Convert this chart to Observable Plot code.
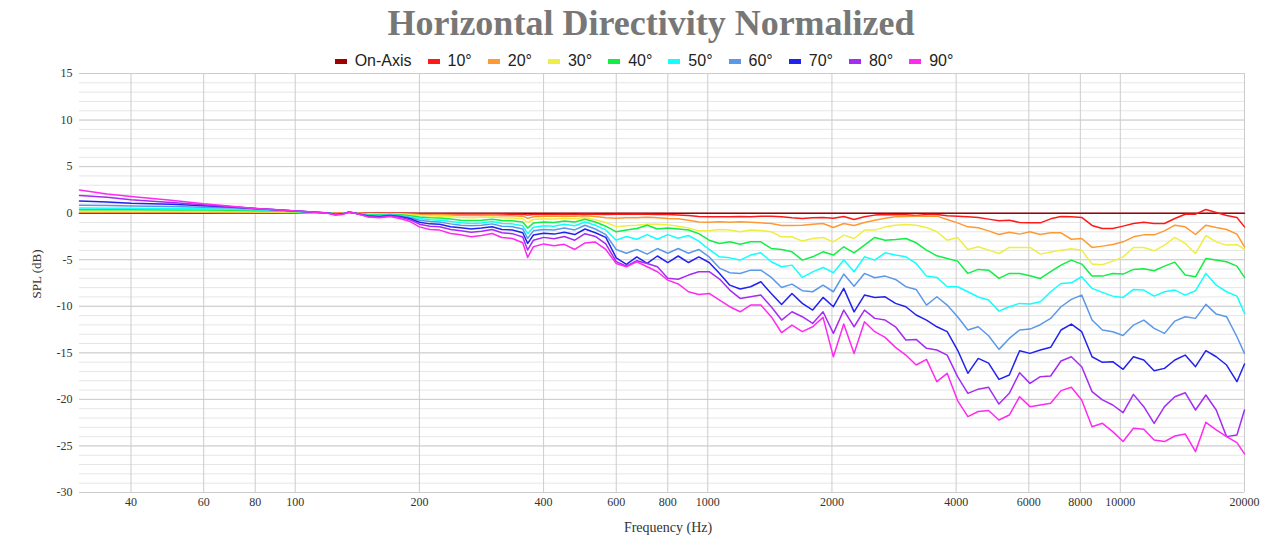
<!DOCTYPE html>
<html>
<head>
<meta charset="utf-8">
<script src="https://cdn.jsdelivr.net/npm/d3@7"></script>
<script src="https://cdn.jsdelivr.net/npm/@observablehq/plot@0.6"></script>
<style>
  html, body { margin: 0; padding: 0; background: #ffffff; }
  #wrap { width: 1280px; height: 550px; position: relative; overflow: hidden; }
  #chart { position: absolute; left: 0; top: 0; }
  #title { position: absolute; top: 0; left: 11px; width: 1280px; height: 46px; line-height: 46px; text-align: center; font-family: 'Liberation Serif', 'Times New Roman', serif; font-weight: bold; font-size: 36px; color: #777777; }
  #legend { position: absolute; top: 50px; left: 4px; width: 1280px; height: 22px; line-height: 22px; display: flex; justify-content: center; gap: 16px; font-family: 'Liberation Sans', Arial, sans-serif; font-size: 16px; color: #222; }
  .item { display: flex; align-items: center; white-space: nowrap; }
  .sw { display: inline-block; width: 12px; height: 5px; margin-right: 8px; }
  #chart svg { display: block; }
</style>
</head>
<body>
<div id="wrap">
  <div id="chart"></div>
  <div id="title">Horizontal Directivity Normalized</div>
  <div id="legend"></div>
</div>
<script>
const freqs = [30,35,40,50,60,70,80,90,100,110,120,125,130,135,140,150,160,170,180,190,
  200,212,224,238,252,267,283,300,317,336,356,366,378,400,424,449,476,504,534,566,600,635,673,713,755,800,848,898,951,
  1008,1068,1131,1198,1270,1345,1425,1510,1600,1695,1796,1903,2016,2136,2263,2398,2540,2691,2851,3021,
  3200,3390,3592,3805,4032,4271,4525,4794,5079,5381,5701,6040,6399,6779,7182,7609,8062,8541,9049,9587,
  10157,10761,11401,12078,12797,13557,14363,15217,16122,17081,18096,19172,20000];

const onAxisFreqs = [30, 20000];
const onAxis = [0, 0];

const deg10 = [0.03,0.03,0.03,0.03,0.03,0.02,0.02,0.02,0.01,0.01,0,-0.01,0,0.01,0,-0.01,-0.02,-0.01,-0.02,-0.03,
  -0.05,-0.07,-0.07,-0.08,-0.1,-0.1,-0.1,-0.09,-0.1,-0.11,-0.13,-0.2,-0.15,-0.13,-0.13,-0.12,-0.13,-0.1,-0.12,-0.15,
  -0.12,-0.12,-0.1,-0.12,-0.15,-0.15,-0.2,-0.25,-0.35,
  -0.39,-0.39,-0.39,-0.36,-0.39,-0.32,-0.32,-0.39,-0.5,-0.57,-0.5,-0.46,-0.54,-0.36,-0.68,-0.39,-0.21,-0.14,-0.18,-0.18,
  -0.25,-0.14,-0.14,-0.29,-0.32,-0.39,-0.46,-0.64,-0.82,-0.75,-1.0,-1.04,-1.04,-0.61,-0.36,-0.39,-0.46,-1.32,-1.65,-1.65,
  -1.39,-1.11,-0.97,-1.11,-1.11,-0.57,-0.11,-0.11,0.39,0.07,-0.25,-0.46,-1.47];

const deg20 = [0.1,0.1,0.1,0.1,0.09,0.08,0.07,0.06,0.04,0.02,0,-0.02,-0.01,0.02,0,-0.04,-0.05,-0.03,-0.05,-0.08,
  -0.15,-0.17,-0.18,-0.2,-0.25,-0.26,-0.25,-0.22,-0.27,-0.28,-0.32,-0.55,-0.38,-0.32,-0.33,-0.3,-0.32,-0.28,-0.35,-0.5,
  -0.55,-0.5,-0.5,-0.45,-0.5,-0.57,-0.6,-0.75,-0.95,
  -0.97,-0.93,-0.97,-0.93,-0.97,-1.04,-1.11,-1.32,-1.32,-1.29,-1.18,-1.11,-1.54,-1.11,-1.32,-1.0,-0.75,-0.54,-0.39,-0.36,
  -0.32,-0.32,-0.32,-0.68,-1.04,-1.47,-1.57,-1.9,-2.29,-2.04,-2.25,-2.0,-2.29,-2.11,-2.11,-2.8,-2.72,-3.68,-3.54,-3.36,
  -3.08,-2.54,-2.33,-2.33,-1.9,-1.29,-1.47,-2.29,-1.29,-1.54,-1.75,-2.25,-3.61];

const deg30 = [0.22,0.22,0.21,0.2,0.19,0.18,0.16,0.13,0.09,0.05,0.01,-0.04,-0.03,0.04,0,-0.08,-0.1,-0.07,-0.1,-0.17,
  -0.25,-0.3,-0.32,-0.38,-0.46,-0.48,-0.45,-0.4,-0.5,-0.52,-0.6,-1.0,-0.68,-0.6,-0.62,-0.55,-0.6,-0.5,-0.7,-1.0,
  -1.45,-1.35,-1.3,-1.2,-1.2,-1.25,-1.4,-1.6,-1.9,
  -1.9,-1.75,-1.82,-2.0,-1.82,-1.86,-2.0,-2.54,-2.54,-3.0,-2.72,-2.61,-3.08,-2.36,-2.72,-1.82,-1.82,-1.47,-1.29,-1.22,
  -1.29,-1.54,-2.0,-2.9,-2.61,-3.9,-3.6,-3.97,-4.33,-3.68,-3.68,-3.68,-4.4,-4.18,-3.97,-3.83,-3.97,-5.47,-5.54,-5.15,
  -4.69,-3.68,-3.68,-4.04,-3.43,-2.61,-3.25,-4.33,-2.4,-3.08,-3.43,-3.36,-3.9];

const deg40 = [0.38,0.37,0.36,0.35,0.33,0.3,0.27,0.22,0.15,0.08,0.02,-0.07,-0.04,0.06,0,-0.14,-0.17,-0.12,-0.17,-0.28,
  -0.4,-0.5,-0.52,-0.62,-0.75,-0.8,-0.75,-0.65,-0.8,-0.82,-0.95,-1.6,-1.05,-0.95,-1.0,-0.85,-0.95,-0.65,-0.95,-1.4,
  -2.0,-1.8,-1.65,-1.3,-1.7,-1.6,-1.7,-1.8,-2.2,
  -2.9,-3.25,-3.08,-3.33,-3.08,-3.08,-3.79,-3.9,-4.15,-5.04,-4.69,-4.15,-4.5,-3.61,-4.26,-3.43,-2.61,-2.9,-2.83,-2.72,
  -3.18,-3.97,-4.58,-4.86,-5.15,-6.47,-6.04,-6.12,-7.01,-6.47,-6.47,-6.72,-7.01,-6.29,-5.58,-5.04,-5.47,-6.76,-6.76,-6.47,
  -6.54,-6.04,-5.97,-6.19,-5.69,-5.26,-6.65,-6.83,-4.86,-5.04,-5.22,-5.69,-6.9];

const deg50 = [0.55,0.53,0.52,0.5,0.47,0.43,0.38,0.3,0.2,0.1,0.03,-0.1,-0.06,0.08,0,-0.2,-0.24,-0.16,-0.24,-0.4,
  -0.57,-0.7,-0.75,-0.9,-1.04,-1.1,-1.05,-0.9,-1.1,-1.15,-1.35,-2.2,-1.5,-1.35,-1.4,-1.2,-1.35,-0.95,-1.3,-1.8,
  -2.9,-2.5,-2.8,-2.3,-2.8,-2.3,-2.7,-2.4,-3.0,
  -3.9,-4.69,-4.8,-5.04,-4.5,-4.26,-5.22,-5.76,-5.58,-6.9,-6.3,-5.83,-6.4,-5.04,-6.29,-4.69,-5.04,-4.26,-4.5,-4.69,
  -5.4,-6.76,-6.9,-7.9,-7.9,-8.44,-9.0,-9.33,-10.52,-10.05,-9.69,-9.76,-9.51,-8.44,-7.55,-7.48,-6.83,-8.08,-8.51,-8.91,
  -9.05,-8.19,-8.26,-8.91,-8.44,-8.26,-8.8,-8.33,-6.47,-7.73,-8.44,-8.91,-10.77];

const deg60 = [0.85,0.82,0.78,0.72,0.64,0.55,0.45,0.35,0.22,0.12,0.03,-0.12,-0.08,0.1,0,-0.25,-0.3,-0.2,-0.3,-0.5,
  -0.75,-0.9,-0.95,-1.15,-1.29,-1.35,-1.3,-1.15,-1.4,-1.45,-1.7,-2.7,-1.9,-1.75,-1.8,-1.6,-1.8,-1.3,-1.7,-2.3,
  -3.9,-4.3,-3.9,-4.4,-3.8,-4.3,-3.8,-4.3,-3.9,
  -4.7,-5.9,-6.4,-6.47,-6.12,-6.12,-6.9,-7.98,-7.62,-8.33,-8.44,-7.73,-8.44,-6.54,-7.84,-6.47,-6.94,-6.76,-7.12,-7.9,
  -8.19,-9.87,-8.98,-9.87,-11.12,-12.55,-12.2,-13.16,-14.63,-13.45,-12.55,-12.45,-11.98,-11.3,-10.05,-9.26,-8.8,-11.48,-12.55,-12.73,
  -13.13,-12.02,-11.48,-12.38,-12.91,-11.59,-11.12,-11.3,-9.8,-10.84,-11.12,-13.27,-15.06];

const deg70 = [1.3,1.2,1.07,0.95,0.8,0.65,0.5,0.36,0.22,0.12,0.03,-0.15,-0.1,0.12,0,-0.3,-0.38,-0.25,-0.38,-0.6,
  -0.97,-1.15,-1.2,-1.45,-1.57,-1.7,-1.6,-1.45,-1.75,-1.8,-2.1,-3.25,-2.35,-2.15,-2.25,-2.05,-2.3,-1.7,-2.1,-2.6,
  -4.8,-5.5,-4.7,-5.4,-4.6,-5.3,-4.6,-5.3,-4.7,
  -5.3,-6.47,-7.73,-8.15,-7.9,-7.37,-8.62,-9.8,-8.62,-9.69,-10.41,-9.05,-10.05,-8.08,-10.6,-8.8,-9.05,-8.98,-9.69,-10.05,
  -10.94,-11.48,-12.2,-12.73,-14.7,-17.2,-15.6,-16.1,-17.85,-17.38,-14.77,-15.06,-14.7,-14.41,-12.55,-11.91,-12.73,-15.42,-16.02,-15.95,
  -16.77,-15.42,-15.77,-16.92,-16.67,-15.77,-15.24,-16.49,-14.77,-15.42,-16.31,-18.1,-16.2];

const deg80 = [1.9,1.7,1.45,1.15,0.9,0.68,0.5,0.38,0.22,0.12,0.02,-0.18,-0.12,0.12,0,-0.35,-0.45,-0.3,-0.45,-0.72,
  -1.18,-1.4,-1.45,-1.75,-1.9,-2.05,-1.95,-1.75,-2.1,-2.2,-2.55,-3.95,-2.9,-2.6,-2.75,-2.5,-2.9,-2.2,-2.5,-3.3,
  -5.2,-5.69,-5.11,-5.4,-5.76,-7.0,-7.1,-6.65,-6.29,
  -6.29,-7.08,-8.26,-9.16,-8.98,-8.8,-10.05,-11.48,-10.59,-11.12,-11.84,-10.59,-12.91,-10.41,-12.2,-10.41,-11.3,-11.48,-12.2,-13.63,
  -13.56,-14.52,-14.7,-15.24,-17.56,-19.35,-18.9,-18.7,-20.5,-19.35,-17.13,-18.28,-17.56,-17.49,-15.88,-15.42,-16.49,-19.17,-20.06,-20.6,
  -21.43,-19.46,-20.78,-22.57,-20.78,-19.71,-19.28,-21.14,-19.53,-21.14,-24.0,-23.82,-21.14];

const deg90 = [2.5,2.05,1.8,1.4,1.0,0.75,0.5,0.38,0.22,0.12,0,-0.2,-0.15,0.12,0,-0.4,-0.5,-0.35,-0.6,-0.9,
  -1.47,-1.75,-1.82,-2.18,-2.32,-2.54,-2.4,-2.18,-2.61,-2.72,-3.18,-4.75,-3.6,-3.3,-3.5,-3.35,-3.9,-3.2,-3.1,-3.9,
  -5.4,-5.76,-5.22,-5.76,-6.29,-7.19,-7.6,-8.44,-8.73,
  -8.62,-9.33,-10.05,-10.59,-9.87,-9.87,-11.12,-12.84,-12.02,-12.73,-12.2,-11.19,-15.42,-11.91,-15.06,-11.66,-12.73,-13.34,-14.41,-15.24,
  -16.31,-15.7,-18.1,-17.2,-20.13,-21.85,-21.3,-21.2,-22.21,-21.68,-19.71,-20.78,-20.6,-20.42,-19.06,-18.7,-20.06,-22.93,-22.57,-23.46,
  -24.53,-23.1,-23.21,-24.36,-24.53,-23.93,-23.71,-25.61,-22.46,-23.28,-24.0,-24.64,-25.86];

const seriesNames = ["On-Axis", "10°", "20°", "30°", "40°", "50°", "60°", "70°", "80°", "90°"];
const seriesColors = ["#a00000", "#ff1a1a", "#ff9933", "#eeee44", "#11ee44", "#11ffff", "#5b99e8", "#2222ee", "#a62cf2", "#ff2af0"];
const seriesValues = [onAxis, deg10, deg20, deg30, deg40, deg50, deg60, deg70, deg80, deg90];

const xTicks = [40, 60, 80, 100, 200, 400, 600, 800, 1000, 2000, 4000, 6000, 8000, 10000, 20000];
const yTicks = [-30, -25, -20, -15, -10, -5, 0, 5, 10, 15];
const yMinorTicks = d3.range(-30, 16, 1);
const xTitle = "Frequency (Hz)";
const yTitle = "SPL (dB)";

// legend
const legend = document.getElementById("legend");
seriesNames.forEach((name, i) => {
  const item = document.createElement("span");
  item.className = "item";
  const sw = document.createElement("span");
  sw.className = "sw";
  sw.style.background = seriesColors[i];
  item.appendChild(sw);
  item.appendChild(document.createTextNode(name));
  legend.appendChild(item);
});

const lineMarks = seriesValues.map((vals, i) => {
  const fs = i === 0 ? onAxisFreqs : freqs;
  const rows = vals.map((v, j) => ({f: fs[j], db: v}));
  return Plot.line(rows, {x: "f", y: "db", stroke: seriesColors[i], strokeWidth: 1.5});
});

const chart = Plot.plot({
  width: 1280,
  height: 550,
  marginTop: 73,
  marginBottom: 58,
  marginLeft: 79,
  marginRight: 36,
  x: {type: "log", domain: [30, 20000], axis: null},
  y: {domain: [-30, 15], axis: null},
  style: {fontFamily: "'Liberation Serif', 'Times New Roman', serif", fontSize: "12px", color: "#333", background: "#ffffff"},
  marks: [
    Plot.ruleY(yMinorTicks, {stroke: "#e6e6e6", strokeWidth: 1}),
    Plot.ruleY(yTicks, {stroke: "#cccccc", strokeWidth: 1}),
    Plot.ruleX(xTicks, {stroke: "#cccccc", strokeWidth: 1}),
    Plot.text(xTicks, {x: d => d, text: d => String(d), frameAnchor: "bottom", dy: 13, fontSize: 12}),
    Plot.text(yTicks, {y: d => d, text: d => String(d), frameAnchor: "left", dx: -7, textAnchor: "end", fontSize: 12}),
    ...lineMarks
  ]
});
document.getElementById("chart").appendChild(chart);

// axis titles
const svg = d3.select(chart);
svg.append("text")
  .attr("x", 668).attr("y", 527).attr("dy", "0.35em")
  .attr("text-anchor", "middle").attr("font-size", 14).attr("fill", "#333")
  .text(xTitle);
svg.append("text")
  .attr("transform", "translate(36,274) rotate(-90)").attr("dy", "0.35em")
  .attr("text-anchor", "middle").attr("font-size", 13).attr("fill", "#333")
  .text(yTitle);
</script>
</body>
</html>
